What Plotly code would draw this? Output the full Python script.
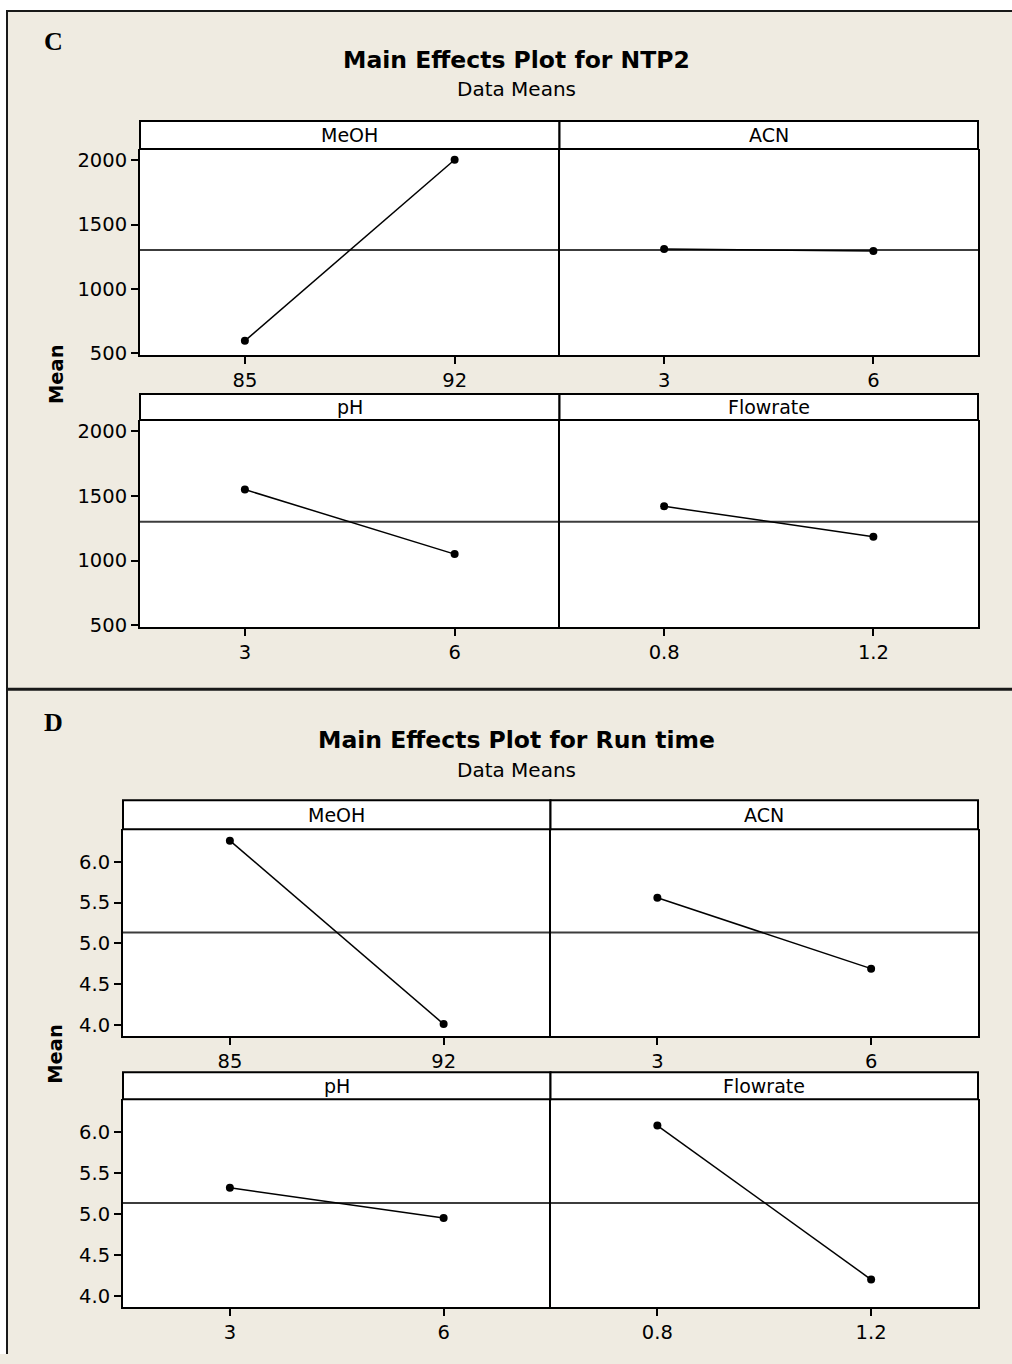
import plotly.graph_objects as go

# ---------------- data ----------------
factors = ["MeOH", "ACN", "pH", "Flowrate"]
levels_meoh = [85, 92]
levels_acn = [3, 6]
levels_ph = [3, 6]
levels_flow = [0.8, 1.2]
level_labels_meoh = ["85", "92"]
level_labels_acn = ["3", "6"]
level_labels_ph = ["3", "6"]
level_labels_flow = ["0.8", "1.2"]

ntp2_meoh = [595, 2005]
ntp2_acn = [1310, 1295]
ntp2_ph = [1550, 1050]
ntp2_flow = [1420, 1185]

run_meoh = [6.26, 4.01]
run_acn = [5.56, 4.69]
run_ph = [5.32, 4.95]
run_flow = [6.08, 4.20]

ntp2_yticks = [500, 1000, 1500, 2000]
run_yticks = [4.0, 4.5, 5.0, 5.5, 6.0]

# ---------------- layout helpers ----------------
W, H = 1012, 1364
HC = 1353.6  # effective rendered height used for placing paper-coordinate items
BG = "rgb(239,235,225)"
FONT = "DejaVu Sans"
TICK = 19.5


def px(x):
    return x / W


def py(y):
    return 1 - y / HC


def note(text, x, y, size, family=FONT, angle=0):
    return dict(text=text, x=px(x), y=py(y), xref="paper", yref="paper", showarrow=False,
                xanchor="center", yanchor="middle", textangle=angle,
                font=dict(family=family, size=size, color="black"))


fig = go.Figure()
layout = dict(
    width=W, height=H, autosize=False, margin=dict(l=0, r=0, t=0, b=0, pad=0),
    paper_bgcolor=BG, plot_bgcolor="white", showlegend=False,
    font=dict(family=FONT, color="black", size=18),
)
shapes = []
annotations = []

levels_all = [levels_meoh, levels_acn, levels_ph, levels_flow]
labels_all = [level_labels_meoh, level_labels_acn, level_labels_ph, level_labels_flow]

sections = [
    dict(letter="C", title="Main Effects Plot for NTP2", data=[ntp2_meoh, ntp2_acn, ntp2_ph, ntp2_flow],
         yticks=ntp2_yticks, yfmt="d", yrange=[484, 2088],
         xl=140, xm=559.5, xr=978,
         rows=[(121, 149, 355), (394, 420, 627)],
         letter_y=41, title_y=60, sub_y=89),
    dict(letter="D", title="Main Effects Plot for Run time", data=[run_meoh, run_acn, run_ph, run_flow],
         yticks=run_yticks, yfmt=".1f", yrange=[3.86, 6.40],
         xl=123, xm=550.5, xr=978,
         rows=[(800, 829, 1036), (1072, 1099, 1307)],
         letter_y=722, title_y=740, sub_y=770),
]

ax = 0
for sec in sections:
    vals = sec["data"]
    grand = sum(sum(v) / len(v) for v in vals) / len(vals)
    annotations.append(note("<b>%s</b>" % sec["letter"], 53, sec["letter_y"], 26, "Liberation Serif"))
    annotations.append(note("<b>%s</b>" % sec["title"], 516, sec["title_y"], 23.5))
    annotations.append(note("Data Means", 516, sec["sub_y"], 20))
    r0, r1 = sec["rows"][0], sec["rows"][1]
    annotations.append(note("<b>Mean</b>", 56, (r0[0] + r1[2]) / 2, 19.5, angle=-90))
    for i in range(4):
        ax += 1
        row = sec["rows"][i // 2]
        col = i % 2
        x0 = sec["xl"] if col == 0 else sec["xm"]
        x1 = sec["xm"] if col == 0 else sec["xr"]
        st, pt, pb = row
        lv = levels_all[i]
        d = lv[1] - lv[0]
        xn = "xaxis" if ax == 1 else "xaxis%d" % ax
        yn = "yaxis" if ax == 1 else "yaxis%d" % ax
        xr_ = "x" if ax == 1 else "x%d" % ax
        yr_ = "y" if ax == 1 else "y%d" % ax
        layout[xn] = dict(domain=[px(x0), px(x1)], anchor=yr_, range=[lv[0] - d / 2, lv[1] + d / 2],
                          tickvals=lv, ticktext=labels_all[i], ticks="outside", ticklen=7, tickwidth=2,
                          tickcolor="black", showline=True, linewidth=2, linecolor="black", mirror=False,
                          showgrid=False, zeroline=False, fixedrange=True, ticklabelstandoff=-1,
                          tickfont=dict(family=FONT, size=TICK, color="black"))
        layout[yn] = dict(domain=[py(pb), py(pt)], anchor=xr_, range=sec["yrange"],
                          tickvals=sec["yticks"], tickformat=sec["yfmt"],
                          ticks="outside" if col == 0 else "", ticklen=7, tickwidth=2,
                          tickcolor="black", showticklabels=(col == 0),
                          showline=True, linewidth=2, linecolor="black", mirror=(col == 1),
                          showgrid=False, zeroline=False, fixedrange=True,
                          tickfont=dict(family=FONT, size=TICK, color="black"))
        # grand mean reference line
        shapes.append(dict(type="line", xref="%s domain" % xr_, yref=yr_, x0=0, x1=1, y0=grand, y1=grand,
                           line=dict(color="rgb(60,60,60)", width=2), layer="below"))
        fig.add_trace(go.Scatter(x=lv, y=vals[i], xaxis=xr_, yaxis=yr_, mode="lines+markers",
                                 line=dict(color="black", width=1.5),
                                 marker=dict(color="black", size=8), cliponaxis=False,
                                 hoverinfo="skip"))
        # strip
        shapes.append(dict(type="rect", xref="paper", yref="paper", x0=px(x0), x1=px(x1),
                           y0=py(pt), y1=py(st), fillcolor="white",
                           line=dict(color="black", width=2)))
        annotations.append(note(factors[i], (x0 + x1) / 2, (st + pt) / 2, 19))

# outer frame lines
shapes.append(dict(type="line", xref="paper", yref="paper", x0=px(6), x1=1, y0=py(11), y1=py(11),
                   line=dict(color="rgb(25,25,25)", width=2)))
shapes.append(dict(type="line", xref="paper", yref="paper", x0=px(7), x1=px(7), y0=0, y1=py(11),
                   line=dict(color="rgb(25,25,25)", width=2)))
shapes.append(dict(type="line", xref="paper", yref="paper", x0=px(6), x1=1, y0=py(689), y1=py(689),
                   line=dict(color="rgb(25,25,25)", width=3)))
# white outside the frame
shapes.append(dict(type="rect", xref="paper", yref="paper", x0=0, x1=px(6), y0=0, y1=1,
                   fillcolor="white", line=dict(width=0), layer="below"))
shapes.append(dict(type="rect", xref="paper", yref="paper", x0=0, x1=1, y0=py(10), y1=1,
                   fillcolor="white", line=dict(width=0), layer="below"))

layout["shapes"] = shapes
layout["annotations"] = annotations
fig.update_layout(**layout)
fig.write_html("out.html")
